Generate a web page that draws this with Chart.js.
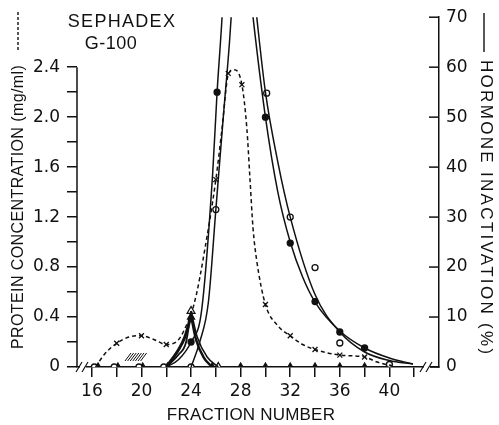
<!DOCTYPE html>
<html>
<head>
<meta charset="utf-8">
<script src="https://cdn.jsdelivr.net/npm/chart.js@4.4.1/dist/chart.umd.min.js"></script>
<style>
  html, body { margin: 0; padding: 0; background: #fff; }
  #wrap { width: 499px; height: 425px; }
</style>
</head>
<body>
<div id="wrap"><canvas id="chart" width="499" height="425"></canvas></div>
<script>
// TICKS
const fractionTicks = [16, 18, 20, 22, 24, 26, 28, 30, 32, 34, 36, 38, 40, 42];
const proteinTicks = [0, 0.2, 0.4, 0.6, 0.8, 1.0, 1.2, 1.4, 1.6, 1.8, 2.0, 2.2, 2.4];
const hormoneTicks = [0, 10, 20, 30, 40, 50, 60, 70];

// protein concentration (dashed curve, mg/ml)
const proteinCurveX = [16.3, 17, 18, 19, 20, 21, 22, 23, 23.7, 24, 24.45, 24.95, 26, 26.5, 27, 27.46, 28.1, 28.5, 28.75, 29, 29.3, 30, 31, 32, 33, 34, 36, 38, 39, 40.2];
const proteinCurveY = [0, 0.1, 0.19, 0.24, 0.25, 0.22, 0.18, 0.22, 0.35, 0.42, 0.59, 0.85, 1.50, 1.91, 2.34, 2.38, 2.26, 1.91, 1.51, 1.11, 0.85, 0.50, 0.33, 0.25, 0.18, 0.14, 0.095, 0.08, 0.04, 0.01];
const proteinMarkX = [18, 20, 22, 26, 27, 28.1, 30, 32, 34, 36, 38];
const proteinMarkY = [0.19, 0.25, 0.18, 1.50, 2.35, 2.26, 0.50, 0.25, 0.14, 0.095, 0.08];

// hormone inactivation, filled circles (%)
const filledRiseX = [22, 23, 24, 24.85, 25.75, 26.1, 26.5, 26.9];
const filledRiseY = [0, 1.5, 5, 11.3, 39, 55, 70, 90];
const filledFallX = [28.5, 29.0, 30, 31, 32, 33, 34, 36, 38, 40, 41.9];
const filledFallY = [82, 70, 50, 35, 25, 18, 13, 7.2, 3.8, 1.8, 0.6];
const filledMarkX = [24, 26.1, 30, 32, 34, 36, 38];
const filledMarkY = [5, 55, 50, 24.8, 13.1, 7, 3.8];

// hormone inactivation, open circles (%)
const openRiseX = [24, 24.7, 25.4, 26, 26.6, 27.1, 27.5];
const openRiseY = [0, 5, 13, 31.5, 50, 65, 80];
const openFallX = [28.8, 29.3, 30, 31, 32, 34, 36, 38, 40, 41.9];
const openFallY = [82, 70, 55, 41, 30, 14.5, 7, 3, 1.3, 0.6];
const openMarkX = [16.2, 17.8, 19.8, 21.8, 24, 26, 30.1, 32, 34, 36, 40];
const openMarkY = [0, 0, 0, 0, 0, 31.5, 54.8, 30, 19.9, 4.8, 0.5];

// triangles
const triFillRiseX = [22, 23, 23.5, 24];
const triFillRiseY = [0, 3.5, 6, 10.3];
const triFillFallX = [24, 24.4, 25, 25.7];
const triFillFallY = [10.3, 5.5, 2, 0];
const triOpenRiseX = [22, 23, 23.6, 24];
const triOpenRiseY = [0, 2.5, 5, 11.2];
const triOpenFallX = [24, 24.5, 25.3, 26.2];
const triOpenFallY = [11.2, 6, 2, 0];
const triFillMarkX = [16.5, 18.1, 20.1, 22.1, 24, 25.7, 28, 30, 32, 34, 36, 38, 40];
const triFillMarkY = [0, 0, 0, 0, 10, 0, 0, 0, 0, 0, 0, 0, 0];
const triOpenMarkX = [24, 26.2];
const triOpenMarkY = [11.2, 0];

const INK = '#111';

function pts(xs, ys) {
  return xs.map((x, i) => ({ x: x, y: ys[i] }));
}

function curve(xs, ys, axis, width, dash) {
  return {
    data: pts(xs, ys),
    yAxisID: axis,
    showLine: true,
    borderColor: INK,
    borderWidth: width,
    borderDash: dash || [],
    pointRadius: 0,
    cubicInterpolationMode: 'monotone'
  };
}

function marks(xs, ys, axis, style, fill, r) {
  return {
    data: pts(xs, ys),
    yAxisID: axis,
    showLine: false,
    pointStyle: style,
    pointRadius: r,
    pointBackgroundColor: fill,
    pointBorderColor: INK,
    pointBorderWidth: 1.3
  };
}

// extra drawing: titles, left axis line, inward ticks, axis breaks
const decor = {
  id: 'decor',
  afterDraw(chart) {
    const { ctx, chartArea: a, scales } = chart;
    const y = scales.y, y2 = scales.y2;
    ctx.save();
    ctx.strokeStyle = INK;
    ctx.fillStyle = INK;
    ctx.lineWidth = 1.5;
    const line = (x1, y1, x2, y2_) => {
      ctx.beginPath(); ctx.moveTo(x1, y1); ctx.lineTo(x2, y2_); ctx.stroke();
    };

    // left axis only up to 2.4
    line(a.left, y.getPixelForValue(0), a.left, y.getPixelForValue(2.4));

    // right axis ticks point inward
    y2.ticks.forEach(t => {
      const py = y2.getPixelForValue(t.value);
      line(a.right - 10, py, a.right, py);
    });

    // breaks on the baseline
    const brk = (cx) => {
      const by = a.bottom;
      ctx.fillStyle = '#fff';
      ctx.fillRect(cx - 3, by - 2, 6, 4);
      ctx.fillStyle = INK;
      ctx.lineWidth = 1.2;
      line(cx - 7, by + 5, cx - 1, by - 5);
      line(cx - 1, by + 5, cx + 5, by - 5);
    };
    brk(a.left + 6);
    brk(a.right - 12);

    // small hatched patch near fraction 20
    ctx.lineWidth = 1;
    for (let i = 0; i < 7; i++) {
      line(125 + i * 2.6, 361, 131 + i * 2.6, 353);
    }

    // labels
    ctx.textBaseline = 'middle';
    ctx.textAlign = 'center';
    ctx.font = '18px "Liberation Sans"';
    ctx.letterSpacing = '1.3px';
    ctx.fillText('SEPHADEX', 122, 22);
    ctx.letterSpacing = '0.5px';
    ctx.fillText('G-100', 111, 44);
    ctx.letterSpacing = '0.2px';
    ctx.font = '17px "Liberation Sans"';
    ctx.fillText('FRACTION NUMBER', 251, 415);

    // left title, bottom to top, dashed key after it
    ctx.font = '16px "Liberation Sans"';
    ctx.letterSpacing = '0.4px';
    ctx.save();
    ctx.translate(19, 349);
    ctx.rotate(-Math.PI / 2);
    ctx.textAlign = 'left';
    ctx.fillText('PROTEIN CONCENTRATION (mg/ml)', 0, 0);
    ctx.restore();
    ctx.save();
    ctx.lineWidth = 1.4;
    ctx.setLineDash([3, 2]);
    line(18, 50, 18, 12);
    ctx.restore();

    // right title, top to bottom, solid key before it
    ctx.font = '17px "Liberation Sans"';
    ctx.letterSpacing = '2.3px';
    ctx.save();
    ctx.translate(486, 60);
    ctx.rotate(Math.PI / 2);
    ctx.textAlign = 'left';
    ctx.fillText('HORMONE INACTIVATION (%)', 0, 0);
    ctx.restore();
    ctx.letterSpacing = '0px';
    ctx.lineWidth = 1.4;
    line(484, 13, 484, 52);

    ctx.restore();
  }
};

const datasets = [
  curve(proteinCurveX, proteinCurveY, 'y', 1.5, [4, 3]),
  curve(filledRiseX, filledRiseY, 'y2', 1.5),
  curve(filledFallX, filledFallY, 'y2', 1.5),
  curve(openRiseX, openRiseY, 'y2', 1.5),
  curve(openFallX, openFallY, 'y2', 1.5),
  curve(triFillRiseX, triFillRiseY, 'y2', 3),
  curve(triFillFallX, triFillFallY, 'y2', 2.5),
  curve(triOpenRiseX, triOpenRiseY, 'y2', 1.8),
  curve(triOpenFallX, triOpenFallY, 'y2', 1.5),
  marks(proteinMarkX, proteinMarkY, 'y', 'crossRot', INK, 3.5),
  marks(filledMarkX, filledMarkY, 'y2', 'circle', INK, 3),
  marks(openMarkX, openMarkY, 'y2', 'circle', '#fff', 3),
  marks(triFillMarkX, triFillMarkY, 'y2', 'triangle', INK, 4),
  marks(triOpenMarkX, triOpenMarkY, 'y2', 'triangle', '#fff', 4.5)
];

Chart.defaults.font.family = '"DejaVu Sans"';
Chart.defaults.color = INK;

new Chart(document.getElementById('chart'), {
  type: 'scatter',
  data: { datasets: datasets },
  options: {
    responsive: false,
    animation: false,
    layout: { padding: { top: 14, left: 0, right: 0, bottom: 0 } },
    plugins: { legend: { display: false }, tooltip: { enabled: false } },
    scales: {
      x: {
        type: 'linear',
        min: 14.8,
        max: 44.0,
        afterBuildTicks: s => { s.ticks = fractionTicks.map(v => ({ value: v })); },
        afterFit: s => { s.height = 58; },
        ticks: {
          autoSkip: false,
          maxRotation: 0,
          padding: 4,
          font: { size: 17 },
          callback: v => (v % 4 === 0 && v <= 40) ? String(v) : ''
        },
        grid: { drawOnChartArea: false, tickLength: 10, color: INK, lineWidth: 1.5 },
        border: { display: true, color: INK, width: 1.5 }
      },
      y: {
        position: 'left',
        min: 0,
        max: 2.8,
        afterBuildTicks: s => { s.ticks = proteinTicks.map(v => ({ value: v })); },
        afterFit: s => { s.width = 77; },
        ticks: {
          padding: 7,
          font: { size: 17 },
          callback: v => {
            const k = Math.round(v * 10);
            if (k % 4 !== 0) return '';
            return k === 0 ? '0' : v.toFixed(1);
          }
        },
        grid: { drawOnChartArea: false, tickLength: 10, color: INK, lineWidth: 1.5 },
        border: { display: false }
      },
      y2: {
        position: 'right',
        min: 0,
        max: 70,
        afterBuildTicks: s => { s.ticks = hormoneTicks.map(v => ({ value: v })); },
        afterFit: s => { s.width = 60; },
        ticks: { padding: 7, font: { size: 17 } },
        grid: { drawOnChartArea: false, drawTicks: false },
        border: { display: true, color: INK, width: 1.5 }
      }
    }
  },
  plugins: [decor]
});
</script>
</body>
</html>
